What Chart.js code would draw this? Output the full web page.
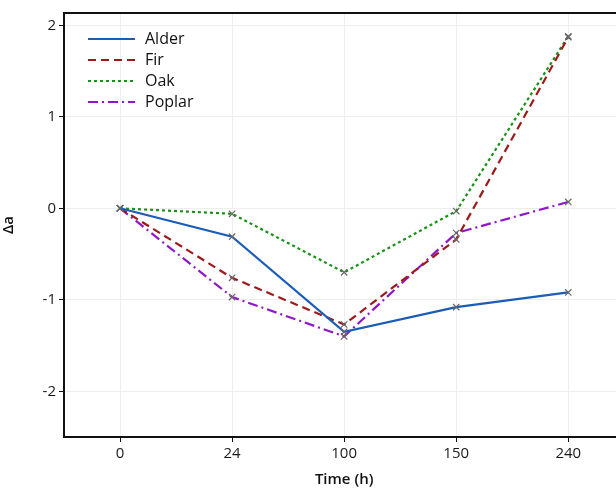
<!DOCTYPE html>
<html>
<head>
<meta charset="utf-8">
<script src="https://cdn.jsdelivr.net/npm/chart.js@4"></script>
<style>
  html, body { margin: 0; padding: 0; overflow: hidden; background: #fff; }
  #wrap { width: 630px; height: 489px; }
</style>
</head>
<body>
<div id="wrap"><canvas id="chart"></canvas></div>
<script>
const times = ["0", "24", "100", "150", "240"];
const alder = [0, -0.31, -1.35, -1.08, -0.92];
const fir = [0, -0.76, -1.27, -0.34, 1.87];
const oak = [0, -0.06, -0.70, -0.03, 1.88];
const poplar = [0, -0.97, -1.40, -0.27, 0.07];
const yTicks = [-2, -1, 0, 1, 2];

const FONT = "'Open Sans', 'Noto Sans', sans-serif";

function series(label, data, color, dash) {
    return {
        label,
        data,
        borderColor: color,
        backgroundColor: color,
        borderWidth: 2.2,
        borderDash: dash,
        tension: 0,
        pointStyle: "crossRot",
        pointRadius: 4.5,
        pointBorderWidth: 1.2,
        pointBorderColor: "#666",
        fill: false,
    };
}

// legend drawn inside the plot, top-left
const innerLegend = {
    id: "innerLegend",
    afterDatasetsDraw(chart) {
        const ctx = chart.ctx;
        const a = chart.chartArea;
        ctx.save();
        chart.data.datasets.forEach((ds, i) => {
            const y = a.top + 26 + i * 21;
            ctx.beginPath();
            ctx.setLineDash(ds.borderDash || []);
            ctx.strokeStyle = ds.borderColor;
            ctx.lineWidth = 2.2;
            ctx.moveTo(a.left + 24, y);
            ctx.lineTo(a.left + 71, y);
            ctx.stroke();
            ctx.setLineDash([]);
            ctx.fillStyle = "#111";
            ctx.font = "16px " + FONT;
            ctx.textBaseline = "middle";
            ctx.fillText(ds.label, a.left + 81, y);
        });
        ctx.restore();
    },
};

// black frame around the plot area
const frame = {
    id: "frame",
    afterDraw(chart) {
        const ctx = chart.ctx;
        const a = chart.chartArea;
        ctx.save();
        ctx.strokeStyle = "#111";
        ctx.lineWidth = 2;
        ctx.strokeRect(a.left, a.top, a.right - a.left, a.bottom - a.top);
        ctx.restore();
    },
};

new Chart(document.getElementById("chart"), {
    type: "line",
    data: {
        labels: times,
        datasets: [
            series("Alder", alder, "#1b5cb8", []),
            series("Fir", fir, "#9e1a1a", [8, 5]),
            series("Oak", oak, "#179117", [3, 3]),
            series("Poplar", poplar, "#8f17c9", [10, 4, 2, 4]),
        ],
    },
    options: {
        responsive: true,
        maintainAspectRatio: false,
        animation: false,
        layout: { padding: { top: 13, right: 5, left: 0, bottom: 0 } },
        plugins: {
            legend: { display: false },
            tooltip: { enabled: false },
        },
        scales: {
            x: {
                offset: true,
                afterFit: (s) => { s.height = 52; },
                grid: {
                    offset: false,
                    color: "#eeeeee",
                    tickColor: "#111",
                    tickLength: 5,
                },
                border: { color: "#111", width: 2 },
                ticks: { color: "#1a1a1a", font: { family: FONT, size: 15 }, padding: 3 },
                title: {
                    display: true,
                    text: "Time (h)",
                    color: "#111",
                    font: { family: FONT, size: 15, weight: "600" },
                    padding: { top: 0, bottom: 0 },
                },
            },
            y: {
                min: -2.5,
                max: 2.135,
                afterFit: (s) => { s.width = 64; },
                afterBuildTicks: (s) => { s.ticks = yTicks.map((v) => ({ value: v })); },
                grid: {
                    color: "#eeeeee",
                    tickColor: "#111",
                    tickLength: 5,
                },
                border: { color: "#111", width: 2 },
                ticks: { color: "#1a1a1a", font: { family: FONT, size: 15 }, padding: 3 },
                title: {
                    display: true,
                    text: "Δa",
                    color: "#111",
                    font: { family: FONT, size: 15, weight: "600" },
                    padding: { top: 0, bottom: 4 },
                },
            },
        },
    },
    plugins: [innerLegend, frame],
});
</script>
</body>
</html>
